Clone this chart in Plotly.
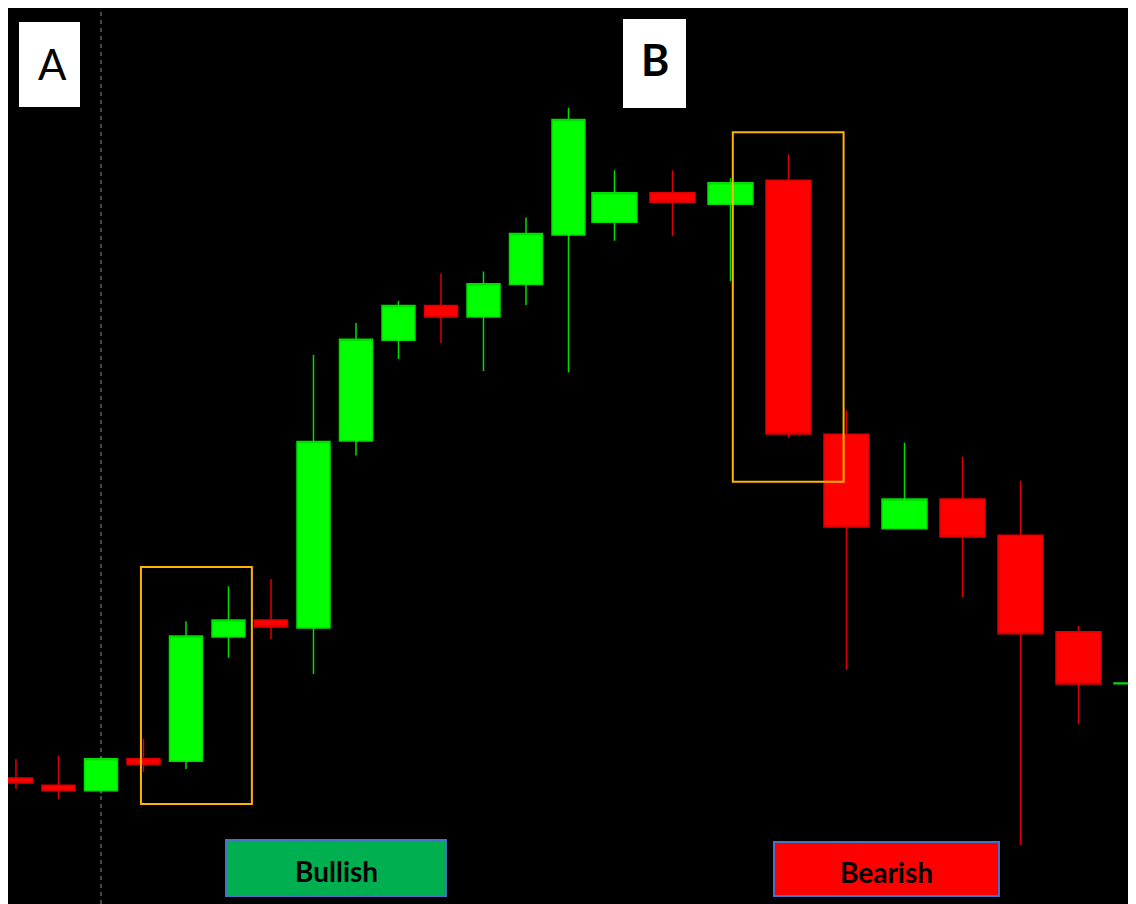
import plotly.graph_objects as go

# candles (arbitrary price units)
opens = [12.6, 11.87, 11.33, 14.53, 14.27, 26.7, 28.4, 27.59, 46.3, 56.37, 59.85, 58.7,
         61.95, 66.9, 68.17, 71.13, 69.97, 72.37, 46.97, 37.53, 40.5, 36.87, 27.23, 22.02]
highs = [14.5, 14.8, 14.7, 16.53, 28.27, 31.77, 32.5, 54.91, 58.09, 60.31, 63.06, 63.26,
         68.65, 79.62, 73.37, 73.37, 72.57, 74.97, 49.37, 46.13, 44.73, 42.33, 27.83, 27.1]
lows = [11.5, 10.47, 11.07, 13.23, 13.5, 24.63, 26.5, 23.0, 44.85, 54.49, 56.1, 53.3,
        59.89, 53.16, 66.33, 66.77, 62.3, 46.6, 23.4, 37.53, 30.67, 5.9, 17.97, 17.8]
closes = [12.1, 11.33, 14.53, 13.97, 26.8, 28.4, 27.7, 46.26, 56.48, 59.85, 58.7, 62.03,
          67.04, 78.44, 71.13, 70.17, 72.13, 47.0, 37.7, 40.5, 36.7, 27.03, 22.0, 22.1]
split = 14  # right part of the screenshot is stretched wider

# page body keeps an 8px margin, so the figure starts at (8, 8) on screen
OFF = 8
W, H = 1136 - 2 * OFF, 904 - OFF
BOTTOM = OFF + H  # screen y of the figure's lower edge


def px(x):
    return (x - OFF) / W


def py(y):
    return (BOTTOM - y) / H


green, red = '#00FF00', '#FF0000'

fig = go.Figure()
for lo, hi, ax in [(0, split, 'x'), (split, len(opens), 'x2')]:
    fig.add_trace(go.Candlestick(
        x=list(range(lo, hi)), open=opens[lo:hi], high=highs[lo:hi],
        low=lows[lo:hi], close=closes[lo:hi], xaxis=ax, yaxis='y',
        increasing=dict(fillcolor=green, line=dict(color='#00DD00', width=1.5)),
        decreasing=dict(fillcolor=red, line=dict(color='#DD0000', width=1.5)),
        whiskerwidth=0, showlegend=False, hoverinfo='skip'))

ax_style = dict(visible=False, showgrid=False, zeroline=False, fixedrange=True)
fig.update_layout(
    width=W, height=H, margin=dict(l=0, r=0, t=0, b=0),
    paper_bgcolor='black', plot_bgcolor='black',
    boxgap=0.224, boxgroupgap=0,
    xaxis=dict(domain=[0, px(590)], range=[-0.188, 13.506], rangeslider=dict(visible=False), **ax_style),
    xaxis2=dict(domain=[px(590), 1], range=[13.578, 22.853], anchor='y',
                rangeslider=dict(visible=False), **ax_style),
    yaxis=dict(range=[(904 - BOTTOM) / 10, 89.6], **ax_style),
)

# dashed marker line at candle A
fig.add_shape(type='line', xref='x', yref='paper', x0=2, x1=2, y0=0, y1=1,
              line=dict(color='#8c8c8c', width=1, dash='4px,4px'), layer='below')

# highlight boxes
gold = '#FFB400'
fig.add_shape(type='rect', xref='x', yref='y', x0=2.94, x1=5.55, y0=10.0, y1=33.7,
              line=dict(color=gold, width=2))
fig.add_shape(type='rect', xref='x2', yref='y', x0=16.04, x1=17.95, y0=42.23, y1=77.17,
              line=dict(color=gold, width=2))

# label boxes
for x0, x1, y0, y1 in [(19, 80, 22, 107), (623, 686, 19, 108)]:
    fig.add_shape(type='rect', xref='paper', yref='paper', x0=px(x0), x1=px(x1),
                  y0=py(y1), y1=py(y0), fillcolor='white', line=dict(width=0))
fig.add_annotation(x=px(52), y=py(64), xref='paper', yref='paper', text='A', showarrow=False,
                   xanchor='center', yanchor='middle',
                   font=dict(family='Lato', size=42, color='black'))
fig.add_annotation(x=px(655), y=py(59), xref='paper', yref='paper', text='B', showarrow=False,
                   xanchor='center', yanchor='middle',
                   font=dict(family='Lato', size=43, color='black', weight='bold'))

for x0, x1, y0, y1, fill, txt in [(226, 446, 840, 896, '#00B050', 'Bullish'),
                                  (774, 999, 842, 896, '#FF0000', 'Bearish')]:
    fig.add_shape(type='rect', xref='paper', yref='paper', x0=px(x0), x1=px(x1),
                  y0=py(y1), y1=py(y0), fillcolor=fill, line=dict(color='#4472C4', width=2))
    fig.add_annotation(x=px((x0 + x1) / 2), y=py((y0 + y1) / 2 + 3), xref='paper', yref='paper',
                       text=txt, showarrow=False, xanchor='center', yanchor='middle',
                       font=dict(family='Lato', size=28, color='black', weight='bold'))

fig.write_html("out.html")
